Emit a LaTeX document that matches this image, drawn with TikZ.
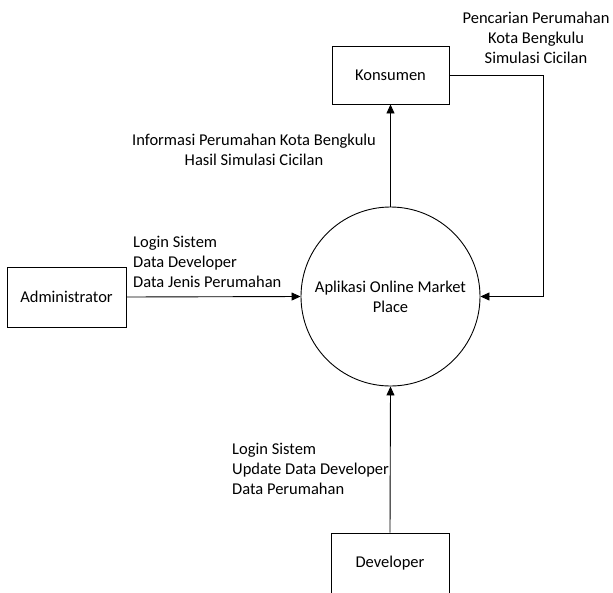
\documentclass[tikz,border=0pt]{standalone}
\usepackage{fontspec}
\setmainfont{Carlito}
\usetikzlibrary{arrows.meta}
\begin{document}
\begin{tikzpicture}[x=1pt,y=-1pt,
  every node/.style={font=\fontsize{16.5}{20}\selectfont},
  entity/.style={draw, line width=0.9pt, inner sep=0pt},
  proc/.style={draw, circle, line width=0.9pt, minimum size=179pt, inner sep=0pt, align=center},
  flowlabel/.style={inner sep=0pt},
  flow/.style={line width=0.9pt, -{Triangle[length=9pt,width=8pt]}}]
\useasboundingbox (0,0) rectangle (613,592);
\clip (0,0) rectangle (613,592);
\node[entity, minimum width=117pt, minimum height=58pt] (kons) at (390.5,75) {Konsumen};
\node[entity, minimum width=119pt, minimum height=60pt] (admin) at (66.5,297) {Administrator};
\node[entity, minimum width=118pt, minimum height=60pt] (dev) at (390,563) {Developer};
\node[proc] (app) at (390.5,296.5) {Aplikasi Online Market\\Place};
\coordinate (corner) at (543,75);
\draw[flow] (app.north) -- (kons.south);
\draw[flow] (kons.east) -- (corner) |- (app.east);
\draw[flow] (admin.east) -- (app.west);
\draw[flow] (dev.north) -- (app.south);
\node[flowlabel, align=center] (l1) at (254,150) {Informasi Perumahan Kota Bengkulu\\Hasil Simulasi Cicilan};
\node[flowlabel, align=center] (l2) at (536,37.5) {Pencarian Perumahan\\Kota Bengkulu\\Simulasi Cicilan};
\node[flowlabel, align=left, anchor=west] (l3) at (133,262) {Login Sistem\\Data Developer\\Data Jenis Perumahan};
\node[flowlabel, align=left, anchor=west] (l4) at (232,469) {Login Sistem\\Update Data Developer\\Data Perumahan};
\end{tikzpicture}
\end{document}
